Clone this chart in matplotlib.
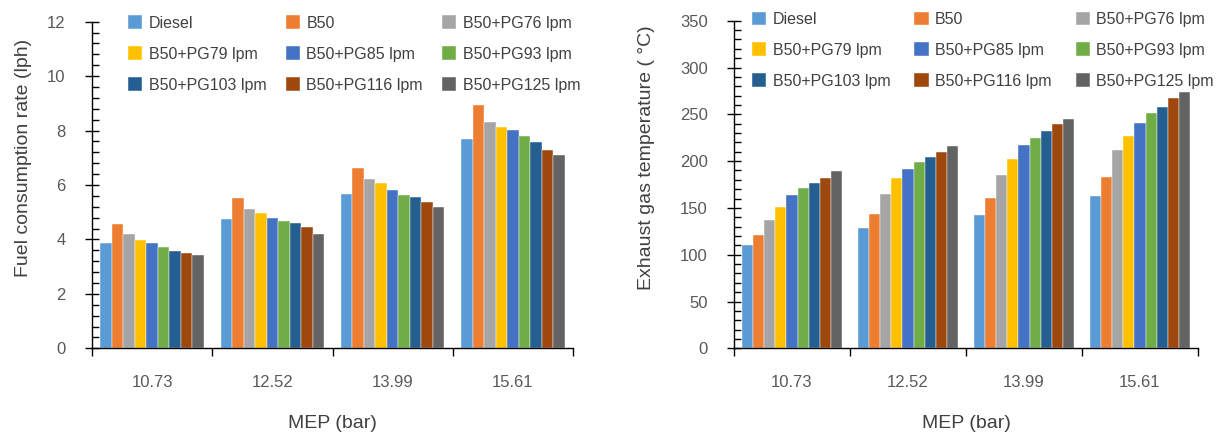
import matplotlib
matplotlib.use('Agg')
import matplotlib.pyplot as plt
import numpy as np
from matplotlib.ticker import MultipleLocator, FixedLocator, FixedFormatter, NullFormatter

plt.rcParams['font.family'] = ['Liberation Sans', 'DejaVu Sans']

mep_labels = ['10.73', '12.52', '13.99', '15.61']
series_names = ['Diesel', 'B50', 'B50+PG76 lpm', 'B50+PG79 lpm', 'B50+PG85 lpm',
                'B50+PG93 lpm', 'B50+PG103 lpm', 'B50+PG116 lpm', 'B50+PG125 lpm']
series_colors = ['#5B9BD5', '#ED7D31', '#A5A5A5', '#FFC000', '#4472C4',
                 '#70AD47', '#255E91', '#9E480E', '#636363']

# Fuel consumption rate (lph)
fuel_diesel = [3.88, 4.76, 5.68, 7.68]
fuel_b50 = [4.55, 5.52, 6.61, 8.95]
fuel_pg76 = [4.20, 5.12, 6.22, 8.33]
fuel_pg79 = [3.97, 4.97, 6.06, 8.14]
fuel_pg85 = [3.86, 4.80, 5.82, 8.01]
fuel_pg93 = [3.72, 4.69, 5.64, 7.79]
fuel_pg103 = [3.59, 4.60, 5.55, 7.57]
fuel_pg116 = [3.49, 4.44, 5.36, 7.27]
fuel_pg125 = [3.42, 4.21, 5.18, 7.09]

# Exhaust gas temperature (C)
egt_diesel = [110, 128, 142, 163]
egt_b50 = [121, 144, 161, 183]
egt_pg76 = [137, 165, 185, 212]
egt_pg79 = [151, 182, 202, 227]
egt_pg85 = [164, 192, 217, 241]
egt_pg93 = [171, 199, 225, 251]
egt_pg103 = [177, 204, 232, 258]
egt_pg116 = [182, 210, 240, 267]
egt_pg125 = [189, 216, 245, 274]

fuel_series = [fuel_diesel, fuel_b50, fuel_pg76, fuel_pg79, fuel_pg85,
               fuel_pg93, fuel_pg103, fuel_pg116, fuel_pg125]
egt_series = [egt_diesel, egt_b50, egt_pg76, egt_pg79, egt_pg85,
              egt_pg93, egt_pg103, egt_pg116, egt_pg125]

W, H = 1219, 434
fig = plt.figure(figsize=(W / 100, H / 100), dpi=100)

def px_axes(x0, x1, ytop, ybot):
    return fig.add_axes([x0 / W, (H - ybot) / H, (x1 - x0) / W, (ybot - ytop) / H])

ax1 = px_axes(92, 573, 21.7, 348.3)
ax2 = px_axes(734, 1198, 20.7, 348.3)

text_col = '#404040'
tick_col = '#595959'
bw = 0.0955


def draw(ax, data, ymax, ymajor, yminor, ylabel, leg_anchor, colspace):
    x = np.arange(len(mep_labels))
    n = len(data)
    handles = []
    for k, (vals, col, name) in enumerate(zip(data, series_colors, series_names)):
        b = ax.bar(x + (k - (n - 1) / 2) * bw, vals, width=bw, color=col,
                   edgecolor='white', linewidth=0.3, label=name, zorder=2)
        handles.append(b)
    ax.set_xlim(-0.5, len(mep_labels) - 0.5)
    ax.set_ylim(0, ymax)
    for s in ['top', 'right']:
        ax.spines[s].set_visible(False)
    for s in ['left', 'bottom']:
        ax.spines[s].set_color('black')
        ax.spines[s].set_linewidth(1.0)
    ax.yaxis.set_major_locator(MultipleLocator(ymajor))
    ax.yaxis.set_minor_locator(MultipleLocator(yminor))
    ax.tick_params(axis='y', which='major', direction='inout', length=10, width=1.0,
                   labelsize=12, labelcolor=tick_col, pad=14, color='black')
    ax.tick_params(axis='y', which='minor', direction='in', length=5, width=1.0, color='black')
    ax.xaxis.set_major_locator(FixedLocator(np.arange(-0.5, len(mep_labels), 1.0)))
    ax.xaxis.set_major_formatter(NullFormatter())
    ax.xaxis.set_minor_locator(FixedLocator(x))
    ax.xaxis.set_minor_formatter(FixedFormatter(mep_labels))
    ax.tick_params(axis='x', which='major', direction='out', length=6, width=1.0, color='black')
    ax.tick_params(axis='x', which='minor', direction='in', length=4.5, width=1.0,
                   labelsize=12, labelcolor=tick_col, pad=19.5, color='black')
    ax.set_ylabel(ylabel, fontsize=14, color=text_col)
    ax.set_xlabel('MEP (bar)', fontsize=14, color=text_col)
    order = [0, 3, 6, 1, 4, 7, 2, 5, 8]
    leg = ax.legend([handles[i] for i in order], [series_names[i] for i in order],
                    ncol=3, loc='upper left', bbox_to_anchor=leg_anchor,
                    frameon=False, fontsize=11.5, handlelength=0.9, handleheight=0.9,
                    handletextpad=0.4, columnspacing=colspace, labelspacing=0.99,
                    borderpad=0, borderaxespad=0)
    for t in leg.get_texts():
        t.set_color(text_col)
    return ax


draw(ax1, fuel_series, 12, 2, 0.4, 'Fuel consumption rate (lph)', (0.0748, 1.019), 1.2)
draw(ax2, egt_series, 350, 50, 10, 'Exhaust gas temperature ( °C)', (0.0388, 1.028), 1.5)

ax1.yaxis.set_label_coords((32 - 92) / 481, (348.3 - 157.5) / 326.6)
ax2.yaxis.set_label_coords((655 - 734) / 464, (348.3 - 157.5) / 327.6)
ax1.xaxis.set_label_coords(0.5, (348.3 - 415) / 326.6)
ax2.xaxis.set_label_coords(0.5, (348.3 - 415) / 327.6)

fig.savefig('out.png', dpi=100)
